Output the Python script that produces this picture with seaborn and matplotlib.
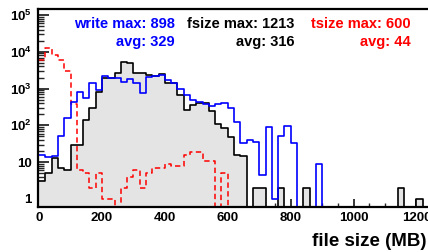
import numpy as np
import pandas as pd
import matplotlib
matplotlib.use("Agg")
import matplotlib.pyplot as plt
import seaborn as sns
from matplotlib.ticker import LogLocator, NullFormatter, MultipleLocator

# ---------------- data (20 MB bins, 0 .. 1300 MB) ----------------
bin_width = 20
bin_range = (0, 1300)

fsize_counts = [3, 5, 13, 7, 6, 30, 30, 140, 290, 820,
                2000, 1900, 2700, 5400, 4900, 2600, 2600, 2350, 2200, 2500,
                1450, 1400, 670, 260, 360, 400, 400, 250, 110, 85,
                47, 16, 15, 0, 2, 2, 0, 0, 2, 0,
                0, 0, 2, 0, 0, 0, 0, 0, 0, 0,
                0, 0, 0, 0, 0, 0, 0, 2, 0, 0,
                1, 0, 0, 0, 0]

write_counts = [15.5, 14, 15, 50, 155, 440, 820, 540, 1400, 910,
                2200, 1900, 2000, 1530, 1800, 1400, 750, 2100, 2200, 2350,
                1700, 1400, 1000, 650, 500, 430, 370, 330, 380, 410,
                300, 125, 33, 40, 35, 4.5, 88, 1, 50, 97,
                34, 0, 0, 0, 9, 0, 0, 0, 0, 0,
                0, 0, 0, 0, 0, 0, 0, 0, 0, 0,
                0, 0, 0, 0, 0]

tsize_counts = [6000, 12500, 8000, 6000, 3000, 380, 6, 5, 2, 5,
                1, 1, 0, 2, 4, 6, 2, 5, 7, 7,
                9, 8, 8, 16, 19, 19, 11, 11, 0, 5,
                0, 0, 0, 0, 0, 0, 0, 0, 0, 0,
                0, 0, 0, 0, 0, 0, 0, 0, 0, 0,
                0, 0, 0, 0, 0, 0, 0, 0, 0, 0,
                0, 0, 0, 0, 0]

series_names = ["write", "fsize", "tsize"]
series_max = [898, 1213, 600]
series_avg = [329, 316, 44]

x_tick_values = [0, 200, 400, 600, 800, 1000, 1200]
x_tick_labels = ["0", "200", "400", "600", "800", "1000", "1200"]
y_tick_values = [1, 10, 100, 1000, 10000, 100000]
y_tick_labels = ["1", "10", r"$10^{2}$", r"$10^{3}$", r"$10^{4}$", r"$10^{5}$"]
x_label = "file size (MB)"

# ---------------- style ----------------
sns.set_theme(style="white")
plt.rcParams["font.family"] = ["Liberation Sans", "DejaVu Sans"]
plt.rcParams["font.weight"] = "bold"
plt.rcParams["mathtext.fontset"] = "custom"
plt.rcParams["mathtext.rm"] = "Liberation Sans:bold"
plt.rcParams["mathtext.bf"] = "Liberation Sans:bold"
plt.rcParams["mathtext.it"] = "Liberation Sans:bold"

Y_MIN, Y_MAX = 0.606, 1.456e5
X_MIN, X_MAX = -5, 1300

fig = plt.figure(figsize=(4.28, 2.52), dpi=100)
fig.patch.set_facecolor("white")
px_per_mb = 0.3145
ax = fig.add_axes([37.5 / 428, 45 / 252, (X_MAX - X_MIN) * px_per_mb / 428, 198 / 252])
ax.set_facecolor("white")

n_bins = len(fsize_counts)
centers = bin_range[0] + bin_width * (np.arange(n_bins) + 0.5)
df = pd.DataFrame({
    "size": centers,
    "fsize": fsize_counts,
    "write": write_counts,
    "tsize": tsize_counts,
})
# empty bins are drawn on the lower frame, as ROOT does on a log axis
for name in series_names:
    df[name + "_line"] = np.where(df[name] > 0, df[name], Y_MIN)

hist_kw = dict(data=df, x="size", binwidth=bin_width, binrange=bin_range,
               element="step", ax=ax)
# file size: grey filled with black outline
sns.histplot(weights="fsize", fill=True, color="#e4e4e4", alpha=1, linewidth=0, **hist_kw)
sns.histplot(weights="fsize_line", fill=False, color="black", linewidth=1.2, **hist_kw)
# transfer size: red dashed
sns.histplot(weights="tsize_line", fill=False, color="#ff0000", linewidth=1.1,
             linestyle=(0, (3.5, 2.2)), **hist_kw)
# write: blue
sns.histplot(weights="write_line", fill=False, color="#0000ff", linewidth=1.2, **hist_kw)

ax.set_yscale("log")
ax.set_xlim(X_MIN, X_MAX)
ax.set_ylim(Y_MIN, Y_MAX)
ax.set_xlabel("")
ax.set_ylabel("")

ax.set_yticks(y_tick_values, y_tick_labels)
ax.yaxis.set_minor_locator(LogLocator(base=10, subs=np.arange(2, 10) * 1.0, numticks=30))
ax.yaxis.set_minor_formatter(NullFormatter())
ax.set_xticks(x_tick_values, x_tick_labels)
ax.xaxis.set_minor_locator(MultipleLocator(50))

ax.tick_params(axis="y", which="major", direction="in", length=8, width=1.1,
               left=True, right=False, pad=4, labelsize=9.5, colors="black")
ax.tick_params(axis="y", which="minor", direction="in", length=4, width=1.0,
               left=True, right=False)
ax.tick_params(axis="x", which="major", direction="in", length=5.5, width=1.1,
               bottom=True, top=False, pad=3.5, labelsize=9.5, colors="black")
ax.tick_params(axis="x", which="minor", direction="in", length=3, width=1.0,
               bottom=True, top=False)
for lab in ax.get_xticklabels() + ax.get_yticklabels():
    lab.set_fontweight("bold")

for sp in ax.spines.values():
    sp.set_visible(True)
    sp.set_color("black")
    sp.set_linewidth(1.6)

# statistics box
text_colors = ["#0000ff", "black", "#ff0000"]
right_px = [175, 294, 411]
for name, mx, av, col, rx in zip(series_names, series_max, series_avg, text_colors, right_px):
    fig.text(rx / 428, (252 - 28) / 252, f"{name} max: {mx}", color=col,
             ha="right", va="baseline", fontsize=10.5, fontweight="bold")
    fig.text(rx / 428, (252 - 46) / 252, f"avg: {av}", color=col,
             ha="right", va="baseline", fontsize=10.5, fontweight="bold")

fig.text(426 / 428, (252 - 246.5) / 252, x_label, ha="right", va="baseline",
         fontsize=13.5, fontweight="bold", color="black")

fig.savefig("out.png", dpi=100)
